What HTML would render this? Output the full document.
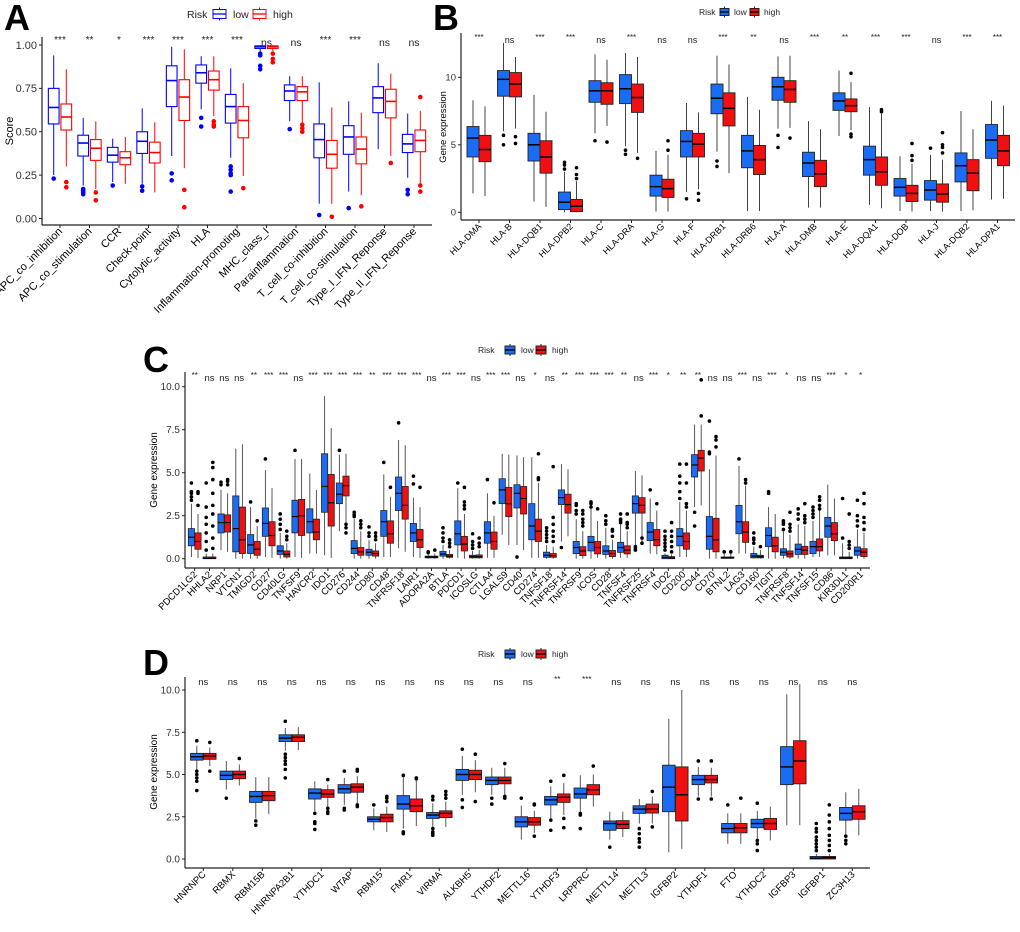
<!DOCTYPE html>
<html><head><meta charset="utf-8"><style>
body{margin:0;background:#fff}
svg text{font-family:"Liberation Sans",Arial,sans-serif}
</style></head><body>
<svg id="fig" width="1020" height="927" viewBox="0 0 1020 927" xmlns="http://www.w3.org/2000/svg"></svg>
<script>
// ---------- Panel A ----------
const aCats=["APC_co_inhibition","APC_co_stimulation","CCR","Check-point","Cytolytic_activity","HLA","Inflammation-promoting","MHC_class_I","Parainflammation","T_cell_co-inhibition","T_cell_co-stimulation","Type_I_IFN_Reponse","Type_II_IFN_Reponse"];
const aSig=["***","**","*","***","***","***","***","ns","ns","***","***","ns","ns"];
const aLow=[[0.25,0.545,0.64,0.75,0.94],[0.19,0.36,0.435,0.48,0.58],[0.21,0.325,0.365,0.41,0.46],[0.2,0.375,0.445,0.50,0.635],[0.36,0.645,0.795,0.88,0.99],[0.63,0.78,0.84,0.885,0.935],[0.35,0.55,0.645,0.715,0.865],[0.96,0.98,0.99,0.995,1.0],[0.56,0.68,0.735,0.77,0.82],[0.085,0.35,0.455,0.545,0.785],[0.155,0.37,0.47,0.535,0.675],[0.4,0.61,0.695,0.76,0.895],[0.235,0.38,0.43,0.485,0.605]];
const aLowOut=[[0.23],[0.17,0.16,0.15,0.14],[0.19],[0.185,0.16],[0.26,0.22],[0.58,0.53],[0.3,0.28,0.26,0.25,0.155],[0.95,0.94,0.88,0.86],[0.515],[0.02],[0.06],[],[0.165,0.14]];
const aHigh=[[0.30,0.51,0.585,0.66,0.86],[0.17,0.335,0.405,0.455,0.56],[0.2,0.31,0.35,0.385,0.47],[0.15,0.32,0.38,0.44,0.555],[0.29,0.565,0.70,0.80,0.975],[0.59,0.74,0.80,0.85,0.935],[0.245,0.465,0.565,0.645,0.78],[0.965,0.98,0.99,0.995,1.0],[0.55,0.68,0.73,0.76,0.82],[0.085,0.29,0.37,0.45,0.64],[0.135,0.315,0.40,0.47,0.61],[0.36,0.58,0.675,0.745,0.835],[0.2,0.385,0.45,0.51,0.62]];
const aHighOut=[[0.21,0.18],[0.15,0.105],[],[],[0.165,0.065],[0.56,0.54,0.53],[0.175],[0.95,0.92,0.9],[0.54,0.52,0.5],[0.01],[0.07],[0.32],[0.7,0.19,0.155]];
const aTicks=[0,0.25,0.5,0.75,1.0];
const aTickLabels=["0.00","0.25","0.50","0.75","1.00"];
// ---------- Panel B ----------
const bCats=["HLA-DMA","HLA-B","HLA-DQB1","HLA-DPB2","HLA-C","HLA-DRA","HLA-G","HLA-F","HLA-DRB1","HLA-DRB6","HLA-A","HLA-DMB","HLA-E","HLA-DQA1","HLA-DOB","HLA-J","HLA-DQB2","HLA-DPA1"];
const bSig=["***","ns","***","***","ns","***","ns","ns","***","**","ns","***","**","***","***","ns","***","***"];
const bLow=[[1.4,4.1,5.5,6.35,8.3],[6.0,8.6,9.85,10.5,12.55],[0.8,3.8,5.0,5.85,8.7],[0,0.2,0.75,1.5,3.0],[5.85,8.15,9.0,9.75,11.7],[4.9,8.05,9.15,10.2,11.8],[0.05,1.2,1.9,2.75,4.55],[1.5,4.1,5.25,6.05,8.1],[4.5,7.3,8.45,9.5,11.6],[0.1,3.3,4.55,5.7,8.55],[6.2,8.3,9.3,10.0,11.55],[0.35,2.65,3.65,4.45,6.75],[5.65,7.55,8.25,8.85,10.5],[0.55,2.75,3.9,4.9,7.8],[0.1,1.2,1.85,2.5,4.15],[0.1,0.9,1.65,2.35,4.25],[0.1,2.25,3.45,4.4,7.5],[0.95,4.0,5.35,6.5,8.25]];
const bLowOut=[[],[5.7,5.0],[],[3.2,3.5,3.7],[5.3],[4.6,4.3],[],[1.0],[3.8,3.4],[],[5.7,4.8],[],[],[],[],[4.75],[],[]];
const bHigh=[[1.2,3.75,4.65,5.7,7.85],[6.2,8.55,9.5,10.35,11.5],[0.4,2.9,4.1,5.3,7.45],[0,0.05,0.45,0.95,2.3],[6.4,8.0,9.0,9.6,11.3],[4.4,7.4,8.5,9.5,11.5],[0.05,1.1,1.75,2.45,4.25],[1.7,4.1,5.05,5.85,7.4],[2.9,6.4,7.7,8.85,10.95],[0.1,2.8,3.9,4.95,7.6],[6.25,8.15,9.1,9.75,11.6],[0.35,1.9,2.85,3.85,6.15],[6.1,7.45,7.9,8.4,9.65],[0.3,2.0,3.0,4.1,7.3],[0.05,0.8,1.4,2.0,3.6],[0.05,0.75,1.35,2.1,3.9],[0.15,1.6,2.9,3.9,6.15],[1.0,3.45,4.55,5.7,7.9]];
const bHighOut=[[],[5.6,5.1],[],[2.5,2.8,3.3],[5.2],[4.0],[4.6,5.3],[1.4,0.9],[],[],[5.5],[],[10.3,5.8,5.6],[7.45,7.6],[3.85,4.2,5.1],[4.4,4.8,5.0,5.9],[],[]];
const bTicks=[0,5,10];
const bTickLabels=["0","5","10"];
// ---------- Panel C ----------
const cCats=["PDCD1LG2","HHLA2","NRP1","VTCN1","TMIGD2","CD27","CD40LG","TNFSF9","HAVCR2","IDO1","CD276","CD244","CD80","CD48","TNFRSF18","LAIR1","ADORA2A","BTLA","PDCD1","ICOSLG","CTLA4","LGALS9","CD40","CD274","TNFSF18","TNFRSF14","TNFRSF9","ICOS","CD28","TNFSF4","TNFRSF25","TNFRSF4","IDO2","CD200","CD44","CD70","BTNL2","LAG3","CD160","TIGIT","TNFRSF8","TNFSF14","TNFSF15","CD86","KIR3DL1","CD200R1"];
const cSig=["**","ns","ns","ns","**","***","***","ns","***","***","***","***","**","***","***","***","ns","***","***","ns","***","***","ns","*","ns","**","***","***","***","**","ns","***","*","**","**","ns","ns","***","ns","***","*","ns","ns","***","*","*"];
const cLow=[[0.1,0.75,1.25,1.75,3.2],[0,0,0.02,0.1,0.3],[0.5,1.5,2.1,2.6,4.0],[0,0.4,1.75,3.65,6.4],[0,0.3,0.8,1.4,3.0],[0.1,1.3,2.05,2.95,5.15],[0,0.25,0.45,0.75,1.5],[0.1,1.5,2.45,3.4,5.8],[0.3,1.5,2.15,2.9,4.95],[0.2,2.7,4.2,6.1,9.45],[1.6,3.2,3.75,4.4,6.05],[0,0.3,0.6,1.05,2.3],[0,0.2,0.38,0.55,1.1],[0.1,1.3,2.15,2.8,4.9],[0.6,2.8,3.8,4.75,6.9],[0.1,1.0,1.5,2.05,3.55],[0,0.05,0.1,0.15,0.3],[0,0.15,0.27,0.42,0.8],[0.05,0.8,1.45,2.2,4.1],[0,0.05,0.12,0.2,0.45],[0.05,0.9,1.5,2.15,3.8],[1.4,3.2,4.0,4.65,6.1],[0.8,2.95,3.8,4.3,6.0],[0.05,1.1,1.9,3.2,5.9],[0,0.08,0.2,0.38,0.8],[1.0,3.15,3.55,4.0,5.5],[0,0.3,0.65,1.0,2.3],[0,0.45,0.95,1.3,2.9],[0,0.25,0.45,0.75,1.8],[0.05,0.37,0.65,0.95,2.0],[0.8,2.65,3.2,3.65,5.1],[0.3,1.05,1.55,2.1,3.5],[0,0,0.08,0.2,0.3],[0.1,0.75,1.3,1.75,3.3],[3.0,4.75,5.45,6.05,7.8],[0,0.55,1.3,2.45,5.2],[0,0.02,0.05,0.1,0.3],[0.3,1.45,2.15,3.1,5.4],[0,0.05,0.15,0.3,0.7],[0,0.7,1.35,1.8,3.0],[0,0.2,0.38,0.58,1.6],[0,0.25,0.55,0.85,2.0],[0.1,0.3,0.7,1.0,2.2],[0.2,1.25,1.9,2.4,4.3],[0,0,0.05,0.1,0.9],[0,0.2,0.45,0.68,1.7]];
const cLowOut=[[3.4,3.6,3.8,3.9,4.4],[0.5,1.0,1.5,2.0,2.4,3.0,4.4],[4.3,4.45],[],[3.3],[5.8],[1.7,2.0,2.3,2.6],[6.3],[],[],[6.3],[2.45,2.55,2.7],[1.3,1.5,1.85],[5.6],[7.9],[4.35,4.8],[0.35,0.4],[1.0,1.2,1.5,1.8],[4.4],[0.6,0.8,1.0,1.45],[4.6],[],[0.1],[],[1.0,1.2,1.4,1.6,1.8],[0.65],[2.6,2.8,3.1,3.2],[3.0,3.2,3.3],[2.0,2.2,2.5],[2.1,2.2,2.3,2.6],[0.7,0.6,0.5],[4.0],[0.5,0.7,0.9,1.1,1.3,1.6],[3.5,3.9,4.4,4.8,5.5],[2.7,1.9],[8.0,6.1,6.2],[0.4],[5.8],[0.9,1.1,1.2,1.5],[3.8,3.9],[1.7,2.0,2.1,2.2],[2.3,2.6,2.9],[2.4,2.6,2.8,3.0],[],[1.2,3.5],[1.9,2.2,2.5,3.4]];
const cHigh=[[0.05,0.55,1.0,1.5,2.6],[0,0,0.02,0.1,0.3],[0.4,1.55,2.1,2.55,3.8],[0,0.3,1.1,3.0,6.65],[0,0.2,0.55,1.0,1.9],[0.05,0.75,1.35,2.15,4.1],[0,0.1,0.25,0.45,0.9],[0.05,1.35,2.5,3.45,5.8],[0.3,1.1,1.55,2.3,4.0],[0.05,1.9,3.25,4.9,7.6],[2.1,3.65,4.25,4.8,6.1],[0,0.2,0.4,0.65,1.6],[0,0.15,0.3,0.45,0.9],[0.1,0.9,1.45,2.2,3.6],[0.4,2.3,3.1,4.2,6.6],[0.05,0.65,1.1,1.7,3.0],[0,0.05,0.1,0.15,0.3],[0,0.08,0.15,0.25,0.5],[0,0.45,0.85,1.3,2.6],[0,0.05,0.12,0.22,0.5],[0.05,0.55,1.0,1.55,2.5],[0.8,2.45,3.2,4.15,6.05],[0.5,2.6,3.5,4.2,5.9],[0.05,1.0,1.6,2.3,4.4],[0,0.08,0.18,0.3,0.7],[1.3,2.65,3.15,3.75,5.2],[0,0.18,0.45,0.7,1.6],[0.05,0.28,0.65,1.0,2.2],[0,0.12,0.3,0.48,1.1],[0.05,0.28,0.5,0.75,1.6],[1.0,2.65,3.1,3.55,4.85],[0.25,0.75,1.1,1.7,2.8],[0,0,0.05,0.12,0.25],[0.1,0.55,1.0,1.5,2.8],[3.1,5.1,5.85,6.3,7.8],[0,0.4,1.1,2.35,6.0],[0,0.02,0.05,0.1,0.3],[0.3,0.95,1.55,2.15,4.25],[0,0.05,0.12,0.2,0.5],[0,0.4,0.75,1.25,2.6],[0,0.1,0.28,0.45,1.4],[0,0.25,0.5,0.72,1.9],[0.1,0.45,0.7,1.15,2.8],[0.2,1.05,1.45,2.1,3.5],[0,0,0.05,0.1,0.4],[0,0.12,0.38,0.58,1.5]];
const cHighOut=[[3.1,3.8,3.9],[0.6,1.2,1.9,2.6,3.1,3.8,4.6,5.3,5.6],[4.3,4.5,4.6],[],[2.2],[],[1.1,1.3,1.6],[],[],[],[2.0,1.8,1.5],[1.8,2.0,2.2],[1.1,1.3,1.5],[4.15],[],[4.15],[0.5],[0.7,0.9,1.1],[2.9,3.1,3.3,4.15],[0.7,0.9,1.2],[3.25],[],[],[4.6,4.7,6.1],[1.0,1.3,1.6,2.0,2.4,5.35],[],[1.9,2.1,2.3,2.6,2.8],[2.9],[1.3,1.6,1.7],[1.8,2.0,2.1,2.6],[1.2,0.9],[3.2],[0.4,0.7,1.0,1.3,1.6,2.1],[3.0,3.2,4.4,5.5],[8.3,10.4],[6.5,6.9,7.1],[0.4],[4.4,4.6],[0.7],[],[1.6,1.8,2.0,2.7],[2.1,2.3,2.5,3.2],[2.9,3.1,3.4,3.6],[],[0.6,0.8,1.0,2.6],[1.7,2.1,2.4,3.2,3.8]];
const cTicks=[0,2.5,5,7.5,10];
const cTickLabels=["0.0","2.5","5.0","7.5","10.0"];
// ---------- Panel D ----------
const dCats=["HNRNPC","RBMX","RBM15B","HNRNPA2B1","YTHDC1","WTAP","RBM15","FMR1","VIRMA","ALKBH5","YTHDF2","METTL16","YTHDF3","LRPPRC","METTL14","METTL3","IGFBP2","YTHDF1","FTO","YTHDC2","IGFBP3","IGFBP1","ZC3H13"];
const dSig=["ns","ns","ns","ns","ns","ns","ns","ns","ns","ns","ns","ns","**","***","ns","ns","ns","ns","ns","ns","ns","ns","ns"];
const dLow=[[5.3,5.85,6.05,6.25,6.7],[4.1,4.7,4.95,5.2,5.8],[2.4,3.35,3.7,4.0,4.85],[6.4,6.95,7.15,7.35,7.75],[2.8,3.55,3.9,4.15,4.6],[3.2,3.9,4.15,4.4,4.8],[1.7,2.2,2.35,2.5,3.0],[1.8,2.95,3.25,3.75,4.9],[1.9,2.4,2.6,2.75,3.3],[3.8,4.65,5.0,5.3,6.1],[3.8,4.4,4.65,4.85,5.4],[1.15,1.9,2.2,2.5,3.15],[2.35,3.2,3.5,3.7,4.3],[2.8,3.6,3.85,4.2,4.95],[1.15,1.7,2.1,2.25,2.8],[2.1,2.7,2.95,3.15,3.55],[0.4,2.8,4.25,5.55,8.3],[3.7,4.4,4.7,4.95,5.45],[0.9,1.55,1.8,2.1,2.7],[1.2,1.85,2.1,2.35,2.85],[2.0,4.4,5.45,6.65,9.75],[0,0,0.05,0.15,0.3],[1.4,2.3,2.7,3.05,3.95]];
const dLowOut=[[7.0,5.2,5.0,4.8,4.6,4.05],[3.6],[2.25,2.0],[8.15,6.2,6.0,5.8,5.6,5.3,4.8],[2.7,2.2,2.1,1.75],[5.2,3.0,2.9],[3.2],[4.95,1.6,1.5],[3.5,3.7,1.8,1.6,1.5,1.4],[6.5,3.5,3.05],[3.6,3.25],[3.6],[4.6,2.3,1.7],[2.7,2.6,1.8],[0.7],[1.8,1.5,1.2,1.0,0.7],[],[5.8,3.55],[3.2],[3.3,1.1,0.9,0.5],[],[0.5,0.7,0.9,1.1,1.3,1.6,1.8,2.1],[1.35,1.1,0.9]];
const dHigh=[[5.5,5.9,6.1,6.25,6.6],[4.35,4.75,5.0,5.2,5.6],[2.65,3.45,3.75,4.0,4.85],[6.45,6.95,7.2,7.35,7.8],[3.1,3.65,3.85,4.1,4.4],[3.3,3.95,4.25,4.45,4.9],[1.6,2.2,2.45,2.65,3.1],[1.95,2.8,3.15,3.55,4.7],[1.9,2.45,2.7,2.85,3.4],[3.95,4.7,5.0,5.25,5.85],[3.8,4.45,4.65,4.85,5.4],[1.55,2.0,2.2,2.45,2.85],[2.6,3.35,3.65,3.85,4.5],[3.1,3.8,4.1,4.4,5.0],[1.3,1.8,2.05,2.27,2.8],[2.1,2.72,2.95,3.25,3.7],[0.6,2.25,3.8,5.45,10.0],[3.7,4.5,4.7,4.95,5.4],[0.9,1.55,1.85,2.1,2.7],[1.1,1.75,2.1,2.4,3.1],[2.0,4.45,5.8,7.0,10.35],[0,0,0.08,0.15,0.3],[1.4,2.35,2.8,3.15,4.15]];
const dHighOut=[[6.9,5.2],[5.95],[],[],[4.7,3.0,2.8,2.7],[5.2,5.3,3.2,3.1],[3.4,3.6,3.7],[4.8,4.75],[3.6,3.8,4.0],[6.2,3.4],[5.65,3.7,3.6],[3.2,3.25,1.35],[4.95,2.4,1.85],[5.5],[],[4.0,1.9],[],[5.8,3.55],[3.6],[],[],[0.5,0.8,1.1,1.4,1.8,2.2,2.6,3.2],[]];
const dTicks=[0,2.5,5,7.5,10];
const dTickLabels=["0.0","2.5","5.0","7.5","10.0"];

const NS="http://www.w3.org/2000/svg";
const svg=document.getElementById('fig');
function mk(tag,attrs,parent,txt){const e=document.createElementNS(NS,tag);for(const k in attrs)e.setAttribute(k,attrs[k]);if(txt!==undefined)e.textContent=txt;(parent||svg).appendChild(e);return e;}

function drawPanel(id,cfg,cats,sig,low,lowOut,high,highOut,ticks,tickLabels){
  const g=mk('g',{});
  
  
  const x=i=>cfg.x0+i*cfg.dx;
  const y=v=>cfg.y0-v*cfg.ky;
  const ax=mk('line',{x1:cfg.left,y1:cfg.top,x2:cfg.left,y2:cfg.bottom,stroke:'#222','stroke-width':1.2},g);
  
  
  const bx=mk('line',{x1:cfg.left,y1:cfg.bottom,x2:cfg.right,y2:cfg.bottom,stroke:'#222','stroke-width':1.2},g);
  
  
  ticks.forEach((t,i)=>{
    mk('line',{x1:cfg.left-3,x2:cfg.left,y1:y(t),y2:y(t),stroke:'#222'},g);
    const tl=mk('text',{x:cfg.left-5,y:y(t)+cfg.yfs*0.35,'text-anchor':'end','font-size':cfg.yfs,fill:'#333'},g,tickLabels[i]);
    
    
  });
  const yt=mk('text',{transform:`translate(${cfg.ytx},${cfg.yty}) rotate(-90)`,'text-anchor':'middle','font-size':cfg.ytfs,fill:'#000'},g,cfg.ytitle);
  
  
  cats.forEach((c,i)=>{
    const cx=x(i);
    mk('line',{x1:cx,x2:cx,y1:cfg.bottom,y2:cfg.bottom+3,stroke:'#222'},g);
    const lt=mk('text',{transform:`translate(${cx+3},${cfg.bottom+7}) rotate(-45)`,'text-anchor':'end','font-size':cfg.xfs,fill:'#000'},g,c);
    
    
    const st=mk('text',{x:cx,y:cfg.sigy+(sig[i]==='ns'?3:0),'text-anchor':'middle','font-size':sig[i]==='ns'?cfg.nsfs:cfg.stfs,fill:'#222'},g,sig[i]);
    
    
    [[low[i],lowOut[i],-1,cfg.lowCol,'low'],[high[i],highOut[i],1,cfg.highCol,'high']].forEach(([s,out,sd,col,nm])=>{
      const bxc=cx+sd*cfg.off, hw=cfg.bw/2;
      const stroke=cfg.outline?col:'#222';
      const fill=cfg.outline?'#fff':col;
      const wg=mk('g',{},g);
      
      
      mk('line',{x1:bxc,x2:bxc,y1:y(s[0]),y2:y(s[4]),stroke:cfg.outline?col:'#444','stroke-width':cfg.wsw},wg);
      mk('rect',{x:bxc-hw,y:y(s[3]),width:cfg.bw,height:Math.max(0.8,y(s[1])-y(s[3])),fill:fill,stroke:stroke,'stroke-width':cfg.bsw},wg);
      mk('line',{x1:bxc-hw,x2:bxc+hw,y1:y(s[2]),y2:y(s[2]),stroke:cfg.outline?col:'#000','stroke-width':cfg.msw},wg);
      out.forEach(v=>{
        const d=mk('circle',{cx:bxc,cy:y(v),r:cfg.r,fill:cfg.outline?col:'#000'},wg);
        
        
      });
    });
  });
  const lg=mk('g',{},g);
  
  
  const L=cfg.leg;
  mk('text',{x:L.x,y:L.y+L.fs*0.36,'font-size':L.fs,fill:'#222'},lg,'Risk');
  [[cfg.lowCol,'low',L.x+L.k1],[cfg.highCol,'high',L.x+L.k2]].forEach(([col,nm,kx])=>{
    const e=mk('g',{},lg);
    
    
    mk('line',{x1:kx+L.w/2,x2:kx+L.w/2,y1:L.y-L.h/2-2,y2:L.y+L.h/2+2,stroke:cfg.outline?col:'#222'},e);
    mk('rect',{x:kx,y:L.y-L.h/2,width:L.w,height:L.h,fill:cfg.outline?'#fff':col,stroke:cfg.outline?col:'#222'},e);
    mk('line',{x1:kx,x2:kx+L.w,y1:L.y,y2:L.y,stroke:cfg.outline?col:'#000','stroke-width':1.3},e);
    mk('text',{x:kx+L.w+L.gap,y:L.y+L.fs*0.36,'font-size':L.fs,fill:'#222'},e,nm);
  });
  const pl=mk('text',{x:cfg.lx,y:cfg.ly,'font-size':cfg.lfs,'font-weight':'bold',fill:'#000'},g,id);
  
  
}

drawPanel('A',{x0:60,dx:29.5,off:6.3,bw:10.7,y0:218.5,ky:173.5,left:42,right:432,top:37,bottom:225,yfs:11,xfs:11,ytfs:11,ytitle:'Score',ytx:13,yty:131,sigy:43,stfs:10,nsfs:10.5,outline:true,lowCol:'#0000ff',highCol:'#ff0000',wsw:1,bsw:1.1,msw:1.6,r:2.3,
  leg:{x:187,y:14,fs:10.5,k1:26,k2:66,w:13,h:9,gap:7},lx:4,ly:30,lfs:36},aCats,aSig,aLow,aLowOut,aHigh,aHighOut,aTicks,aTickLabels);
drawPanel('B',{x0:479,dx:30.5,off:6,bw:12,y0:212.3,ky:13.5,left:461,right:1015,top:33,bottom:220,yfs:9.5,xfs:9,ytfs:9.5,ytitle:'Gene expression',ytx:446,yty:127,sigy:40,stfs:8,nsfs:9,outline:false,lowCol:'#1a6cf5',highCol:'#f01010',wsw:1,bsw:0.9,msw:1.5,r:1.8,
  leg:{x:699,y:12,fs:8.5,k1:21,k2:51,w:9,h:7,gap:5},lx:433,ly:30,lfs:36},bCats,bSig,bLow,bLowOut,bHigh,bHighOut,bTicks,bTickLabels);
drawPanel('C',{x0:194.7,dx:14.8,off:3.3,bw:6.2,y0:558.7,ky:17.2,left:185,right:870,top:372,bottom:568,yfs:10,xfs:9.5,ytfs:10,ytitle:'Gene expression',ytx:157,yty:470,sigy:378,stfs:8,nsfs:9.5,outline:false,lowCol:'#1a6cf5',highCol:'#f01010',wsw:0.9,bsw:0.8,msw:1.2,r:1.8,
  leg:{x:478,y:350,fs:8.5,k1:27,k2:58,w:10,h:8,gap:6},lx:143,ly:372,lfs:36},cCats,cSig,cLow,cLowOut,cHigh,cHighOut,cTicks,cTickLabels);
drawPanel('D',{x0:203.3,dx:29.5,off:6.5,bw:12.5,y0:859,ky:16.9,left:185,right:870,top:677,bottom:868,yfs:10,xfs:9.5,ytfs:10,ytitle:'Gene expression',ytx:157,yty:772,sigy:682,stfs:8,nsfs:9.5,outline:false,lowCol:'#1a6cf5',highCol:'#f01010',wsw:0.9,bsw:0.9,msw:1.4,r:1.8,
  leg:{x:478,y:654,fs:8.5,k1:27,k2:58,w:10,h:8,gap:6},lx:143,ly:675,lfs:36},dCats,dSig,dLow,dLowOut,dHigh,dHighOut,dTicks,dTickLabels);
</script>
</body></html>
